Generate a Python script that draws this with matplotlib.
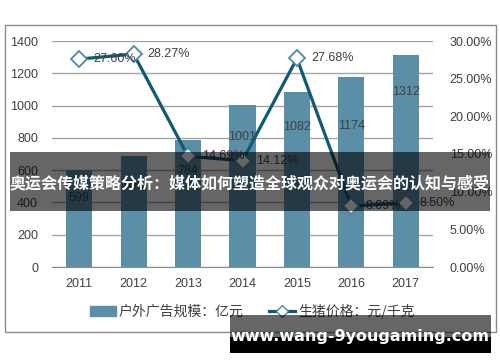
import matplotlib
matplotlib.use("Agg")
import matplotlib.pyplot as plt
from matplotlib.patches import Rectangle
from matplotlib.lines import Line2D
from matplotlib.patches import Patch

plt.rcParams['font.family'] = ['Liberation Sans', 'Noto Sans CJK SC', 'DejaVu Sans']

years = ['2011', '2012', '2013', '2014', '2015', '2016', '2017']
ad_scale = [599, 685, 784, 1001, 1082, 1174, 1312]
pig_price = [27.60, 28.27, 14.69, 14.12, 27.68, 8.09, 8.50]
left_ticks = [0, 200, 400, 600, 800, 1000, 1200, 1400]
right_ticks = [0, 5, 10, 15, 20, 25, 30]
bar_label_drop = [28, 30, 31, 32, 35, 49, 37]  # px below bar top

title = '奥运会传媒策略分析：媒体如何塑造全球观众对奥运会的认知与感受'
watermark = 'www.wang-9yougaming.com'
legend_bar = '户外广告规模：亿元'
legend_line = '生猪价格：元/千克'

W, H = 500, 362
fig = plt.figure(figsize=(W/100, H/100), dpi=100)
fig.patch.set_facecolor('white')

def fx(x): return x / W
def fy(y): return 1 - y / H

# outer border
fig.patches.append(Rectangle((fx(4.5), fy(332)), fx(496) - fx(4.5), fy(24.5) - fy(332),
                             transform=fig.transFigure, fill=False, ec='#8c8c8c', lw=1, zorder=0))

ax = fig.add_axes([fx(52), fy(267), fx(433) - fx(52), fy(41) - fy(267)])
ax.set_facecolor('none')
x = list(range(len(years)))
bar_color = '#5b8fa8'
line_color = '#0e5a73'
txt_color = '#404040'

ax.bar(x, ad_scale, width=0.48, color=bar_color, zorder=2)
ax.set_xlim(-0.5, 6.5)
ax.set_ylim(0, 1400)
ax.set_yticks(left_ticks)
ax.set_yticklabels([str(v) for v in left_ticks])
ax.set_xticks(x)
ax.set_xticklabels(years)
ax.tick_params(axis='both', length=0, labelsize=9, colors=txt_color)
ax.tick_params(axis='y', pad=10)
ax.tick_params(axis='x', pad=8)
ax.grid(axis='y', color='#a6a6a6', lw=1, zorder=0)
for s in ['top', 'left', 'right']:
    ax.spines[s].set_visible(False)
ax.spines['bottom'].set_color('#8c8c8c')

px_per_unit = (267 - 41) / 1400
for xi, v, d in zip(x, ad_scale, bar_label_drop):
    ax.text(xi, v - d / px_per_unit, str(v), ha='center', va='center', fontsize=9, color=txt_color, zorder=3)

ax2 = ax.twinx()
ax2.set_ylim(0, 30)
ax2.set_yticks(right_ticks)
ax2.set_yticklabels(['%.2f%%' % v for v in right_ticks])
ax2.tick_params(axis='y', length=0, labelsize=9, colors=txt_color, pad=12)
for s in ['top', 'left', 'right', 'bottom']:
    ax2.spines[s].set_visible(False)
ax2.plot(x, pig_price, color=line_color, lw=2.3, marker='D', markersize=8.5,
         markerfacecolor='white', markeredgecolor='#4b8ba3', markeredgewidth=1.3, zorder=4)
for xi, v in zip(x, pig_price):
    ax2.annotate('%.2f%%' % v, (xi, v), xytext=(10, 0), textcoords='offset points',
                 ha='left', va='center', fontsize=9, color=txt_color, zorder=5)

# legend
handles = [Patch(color=bar_color),
           Line2D([0], [0], color=line_color, lw=2.3, marker='D', markersize=6,
                  markerfacecolor='white', markeredgecolor='#4b8ba3')]
leg = fig.legend(handles, [legend_bar, legend_line], loc='center', bbox_to_anchor=(fx(252), fy(311)),
                 ncol=2, frameon=False, handlelength=1.9, handletextpad=0.2,
                 columnspacing=1.8, labelcolor=txt_color, prop={'family': ['Noto Sans CJK SC'], 'size': 10})

# overlay band with title
fig.patches.append(Rectangle((fx(10), fy(211)), fx(490) - fx(10), fy(152) - fy(211),
                             transform=fig.transFigure, fc='black', alpha=0.6, ec='none', zorder=10))
fig.text(fx(250), fy(183), title, ha='center', va='center', color='white', fontsize=11.5,
         fontweight='bold', family=['Noto Sans CJK SC', 'DejaVu Sans'], zorder=11)

# watermark
fig.patches.append(Rectangle((fx(230), fy(337)), fx(491) - fx(230), fy(315) - fy(337),
                             transform=fig.transFigure, fc='black', alpha=0.6, ec='none', zorder=10))
fig.patches.append(Rectangle((fx(230), fy(353)), fx(491) - fx(230), fy(337) - fy(353),
                             transform=fig.transFigure, fc='black', ec='none', zorder=10))
fig.text(fx(360), fy(336), watermark, ha='center', va='center', color='white', fontsize=11.5,
         fontweight='bold', family=['DejaVu Sans'], zorder=11)

fig.savefig('out.png', dpi=100)
